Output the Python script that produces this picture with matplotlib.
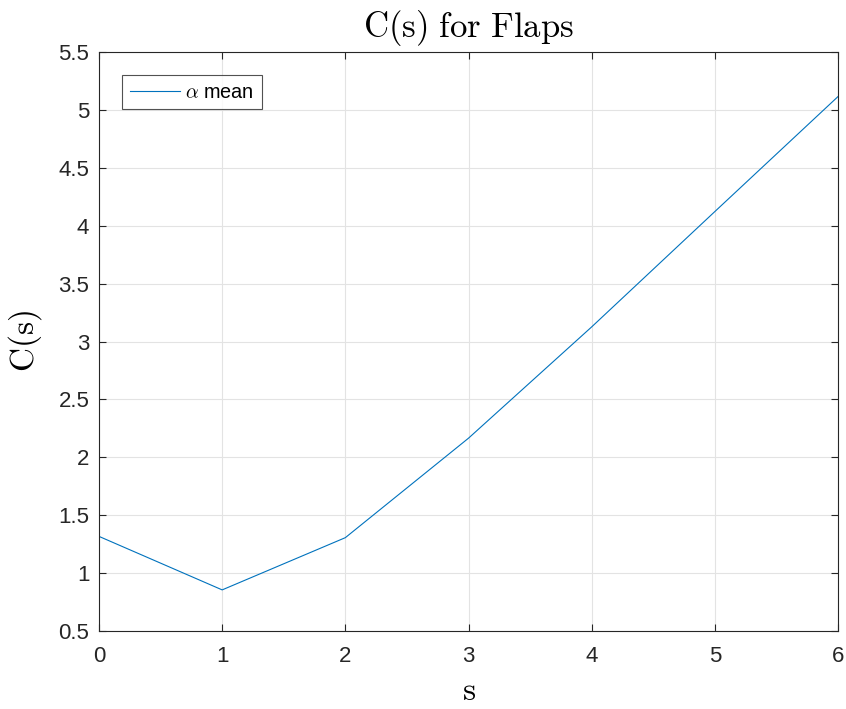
import matplotlib
matplotlib.use("Agg")
import matplotlib.pyplot as plt

plt.rcParams["mathtext.fontset"] = "cm"
plt.rcParams["font.family"] = ["Liberation Sans", "DejaVu Sans"]

s_values = [0, 1, 2, 3, 4, 5, 6]
c_alpha_mean = [1.317, 0.855, 1.306, 2.165, 3.126, 4.122, 5.115]

x_ticks = [0, 1, 2, 3, 4, 5, 6]
y_ticks = [0.5, 1, 1.5, 2, 2.5, 3, 3.5, 4, 4.5, 5, 5.5]
y_ticklabels = ["0.5", "1", "1.5", "2", "2.5", "3", "3.5", "4", "4.5", "5", "5.5"]

axis_color = "#262626"

fig = plt.figure(figsize=(8.46, 7.09), dpi=100)
ax = fig.add_axes([99 / 846, 78 / 709, 739 / 846, 579 / 709])

ax.plot(s_values, c_alpha_mean, color="#0072BD", linewidth=0.8, label=r"$\alpha$ mean")

ax.set_xlim(0, 6)
ax.set_ylim(0.5, 5.5)
ax.set_xticks(x_ticks)
ax.set_yticks(y_ticks)
ax.set_yticklabels(y_ticklabels)

ax.grid(True, color="#e3e3e3", linewidth=0.8)
ax.set_axisbelow(True)

for side in ["top", "bottom", "left", "right"]:
    ax.spines[side].set_color(axis_color)
    ax.spines[side].set_linewidth(0.8)

ax.tick_params(axis="both", direction="in", length=5, width=0.8,
               colors=axis_color, labelsize=16, top=True, right=True)
ax.tick_params(axis="x", pad=11)
ax.tick_params(axis="y", pad=7)

ax.set_title(r"$\mathrm{C(s)\ for\ Flaps}$", fontsize=25, color="black", pad=11)
ax.set_xlabel(r"$\mathrm{s}$", fontsize=24, color="black", labelpad=6)
ax.set_ylabel(r"$\mathrm{C(s)}$", fontsize=24, color="black", labelpad=10)

leg = ax.legend(loc="upper left", bbox_to_anchor=(0.031, 0.961), fontsize=14.3,
                frameon=True, fancybox=False, borderaxespad=0,
                handlelength=2.5, handletextpad=0.3, borderpad=0.4)
leg.get_frame().set_edgecolor(axis_color)
leg.get_frame().set_linewidth(0.8)
for t in leg.get_texts():
    t.set_color("black")

fig.savefig("out.png", dpi=100)
